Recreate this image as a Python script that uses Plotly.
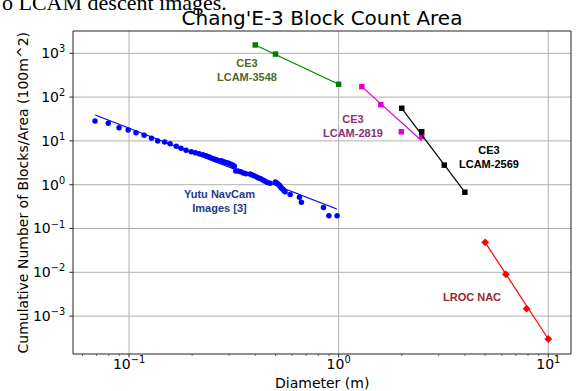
import plotly.graph_objects as go

# Yutu NavCam block counts
yutu_d = [0.0688, 0.0796, 0.0896, 0.099, 0.108, 0.118, 0.128, 0.137, 0.148, 0.157,
          0.168, 0.177, 0.187, 0.198, 0.207, 0.216, 0.225, 0.233, 0.240, 0.247,
          0.255, 0.260, 0.264, 0.274, 0.279, 0.285, 0.293, 0.299, 0.306, 0.313,
          0.318, 0.323, 0.331, 0.341, 0.351, 0.361, 0.378, 0.385, 0.395, 0.407,
          0.414, 0.425, 0.435, 0.446, 0.457, 0.471, 0.499, 0.507, 0.513, 0.522,
          0.527, 0.533, 0.542, 0.549, 0.555, 0.587, 0.650, 0.664, 0.846, 0.898, 0.983]
yutu_n = [28.5, 25.2, 20.0, 17.7, 15.4, 13.4, 11.5, 9.95, 9.44, 8.63,
          7.53, 6.78, 6.10, 5.67, 5.38, 5.10, 4.84, 4.59, 4.35, 4.07,
          3.86, 3.72, 3.61, 3.53, 3.42, 3.30, 3.18, 3.08, 2.92, 2.77,
          2.63, 2.06, 2.06, 1.98, 1.85, 1.78, 1.75, 1.69, 1.60, 1.50,
          1.42, 1.37, 1.28, 1.20, 1.13, 1.08, 1.15, 1.09, 1.04, 0.969,
          0.90, 0.84, 0.785, 0.73, 0.69, 0.60, 0.52, 0.40, 0.30, 0.196, 0.196]
yutu_fit_d = [0.069, 0.98]
yutu_fit_n = [39.0, 0.279]

# CE3 LCAM frames
lcam3548_d = [0.4, 0.5, 1.0]
lcam3548_n = [1550, 960, 196]
lcam3548_fit_d = [0.4, 1.0]
lcam3548_fit_n = [1550, 196]

lcam2819_d = [1.29, 1.59, 1.99, 2.49]
lcam2819_n = [173, 67, 16.2, 12.5]
lcam2819_fit_d = [1.29, 2.49]
lcam2819_fit_n = [173, 10.1]

lcam2569_d = [2.0, 2.49, 3.19, 4.0]
lcam2569_n = [55.5, 16.2, 2.8, 0.675]
lcam2569_fit_d = [2.0, 4.0]
lcam2569_fit_n = [55.5, 0.675]

# LROC NAC
lroc_d = [5.0, 6.28, 7.88, 10.0]
lroc_n = [0.0484, 0.009, 0.00148, 0.0003]
lroc_fit_d = [5.0, 10.0]
lroc_fit_n = [0.0484, 0.0003]

x_tickvals = [0.1, 1, 10]
x_ticktext = ["10<sup>\u22121</sup>", "10<sup>0</sup>", "10<sup>1</sup>"]
x_minor_vals = [m * 10.0 ** e for e in (-2, -1, 0, 1) for m in range(2, 10)]
y_tickvals = [1e-3, 1e-2, 1e-1, 1, 10, 100, 1000]
y_ticktext = ["10<sup>\u22123</sup>", "10<sup>\u22122</sup>", "10<sup>\u22121</sup>",
              "10<sup>0</sup>", "10<sup>1</sup>", "10<sup>2</sup>", "10<sup>3</sup>"]

X_RANGE = [-1.2673, 1.1084]   # log10 units
Y_RANGE = [-3.865, 3.509]

W, H = 576, 391
M = dict(l=73, r=5, t=31, b=37)
plot_w = W - M["l"] - M["r"]
plot_h = H - M["t"] - M["b"]

fig = go.Figure()

def add_series(d, n, fd, fn, color, symbol, size):
    fig.add_trace(go.Scatter(x=fd, y=fn, mode="lines",
                             line=dict(color=color, width=1.2), hoverinfo="skip"))
    fig.add_trace(go.Scatter(x=d, y=n, mode="markers",
                             marker=dict(color=color, symbol=symbol, size=size,
                                         line=dict(width=0))))

add_series(yutu_d, yutu_n, yutu_fit_d, yutu_fit_n, "#0000ff", "circle", 5.5)
add_series(lcam3548_d, lcam3548_n, lcam3548_fit_d, lcam3548_fit_n, "#008000", "square", 5.5)
add_series(lcam2819_d, lcam2819_n, lcam2819_fit_d, lcam2819_fit_n, "#dd00dd", "square", 5.5)
add_series(lcam2569_d, lcam2569_n, lcam2569_fit_d, lcam2569_fit_n, "#000000", "square", 5.5)
add_series(lroc_d, lroc_n, lroc_fit_d, lroc_fit_n, "#ff0000", "diamond", 6)

# grid, frame and tick marks drawn as line shapes (data values on the log axes)
GRID = dict(color="#b0b0b0", width=1)
TICK = dict(color="#222222", width=1)
x_lo, x_hi = 10 ** X_RANGE[0], 10 ** X_RANGE[1]
for v in x_tickvals:
    fig.add_shape(type="line", xref="x", yref="paper", x0=v, x1=v, y0=0, y1=1,
                  line=GRID, layer="below")
    fig.add_shape(type="line", xref="x", yref="paper", x0=v, x1=v,
                  y0=0, y1=-3.5 / plot_h, line=TICK)
for v in x_minor_vals:
    if x_lo <= v <= x_hi:
        fig.add_shape(type="line", xref="x", yref="paper", x0=v, x1=v,
                      y0=0, y1=-2 / plot_h, line=dict(color="#555555", width=0.8))
for v in y_tickvals:
    fig.add_shape(type="line", xref="paper", yref="y", x0=0, x1=1, y0=v, y1=v,
                  line=GRID, layer="below")
    fig.add_shape(type="line", xref="paper", yref="y", x0=0, x1=-3.5 / plot_w,
                  y0=v, y1=v, line=TICK)
for x0, y0, x1, y1 in [(0, 0, 1, 0), (0, 1, 1, 1), (0, 0, 0, 1), (1, 0, 1, 1)]:
    fig.add_shape(type="line", xref="paper", yref="paper",
                  x0=x0, y0=y0, x1=x1, y1=y1, line=TICK)

label_font = dict(family="Liberation Sans, Arial, sans-serif", size=11)
labels = [
    ("CE3<br>LCAM-3548", -0.438, 2.619, "#4b6a2c"),
    ("CE3<br>LCAM-2819", 0.069, 1.345, "#8e3077"),
    ("CE3<br>LCAM-2569", 0.718, 0.639, "#000000"),
    ("Yutu NavCam<br>Images [3]", -0.569, -0.372, "#1e3a8a"),
    ("LROC NAC", 0.636, -2.557, "#912a2a"),
]
for text, lx, ly, col in labels:
    fig.add_annotation(x=lx, y=ly, xref="x", yref="y", text="<b>" + text + "</b>",
                       showarrow=False, font=dict(color=col, **label_font),
                       align="center", xanchor="center", yanchor="middle")

axis_font = dict(family="DejaVu Sans, sans-serif", size=14, color="#000000")

fig.add_annotation(x=-0.1005, y=0.5, xref="paper", yref="paper",
                   xanchor="center", yanchor="middle",
                   text="Cumulative Number of Blocks/Area (100m^2)", textangle=-90,
                   showarrow=False, font=axis_font)
fig.add_annotation(x=0.5, y=-0.0898, xref="paper", yref="paper",
                   xanchor="center", yanchor="middle",
                   text="Diameter (m)", showarrow=False, font=axis_font)
fig.add_annotation(x=-0.147, y=1.087, xref="paper", yref="paper",
                   xanchor="left", yanchor="middle",
                   text="o LCAM descent images.", showarrow=False,
                   font=dict(family="Liberation Serif, Times New Roman, serif",
                             size=22, color="#000000"))

tick_font = dict(family="DejaVu Sans, sans-serif", size=14, color="#000000")

fig.update_layout(
    width=W, height=H,
    margin=M,
    paper_bgcolor="white", plot_bgcolor="white",
    showlegend=False,
    title=dict(text="Chang'E-3 Block Count Area", x=0.559, xanchor="center",
               y=0.955, yanchor="middle",
               font=dict(family="DejaVu Sans, sans-serif", size=20, color="#000000")),
    xaxis=dict(type="log", range=X_RANGE,
               tickmode="array", tickvals=x_tickvals, ticktext=x_ticktext,
               tickfont=tick_font, ticks="",
               showgrid=False, showline=False, zeroline=False),
    yaxis=dict(type="log", range=Y_RANGE,
               tickmode="array", tickvals=y_tickvals, ticktext=y_ticktext,
               tickfont=tick_font,
               ticks="outside", ticklen=4, tickcolor="rgba(0,0,0,0)",
               showgrid=False, showline=False, zeroline=False),
)

fig.write_html("out.html")
